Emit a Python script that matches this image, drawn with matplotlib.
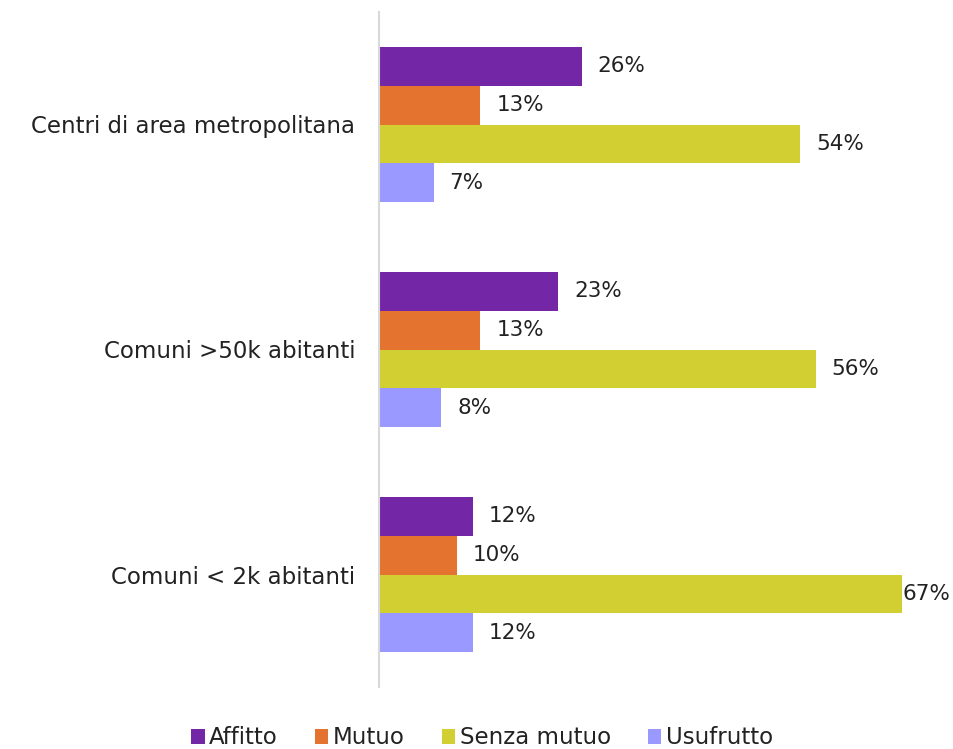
import matplotlib
matplotlib.use("Agg")
import matplotlib.pyplot as plt
import numpy as np
from matplotlib.patches import Patch

categories = ["Centri di area metropolitana", "Comuni >50k abitanti", "Comuni < 2k abitanti"]
series = ["Affitto", "Mutuo", "Senza mutuo", "Usufrutto"]
affitto = [26, 23, 12]
mutuo = [13, 13, 10]
senza_mutuo = [54, 56, 67]
usufrutto = [7, 8, 12]
colors = ["#7327A6", "#E3732E", "#D2CF33", "#9A99FF"]

FS = 15.5
FS_CAT = 16.5
plt.rcParams['font.family'] = ['DejaVu Sans']
fig = plt.figure(figsize=(9.54, 7.49), dpi=100)
ax = fig.add_axes([379/954, 1-687/749, (950-379)/954, (687-12)/749])

values = [affitto, mutuo, senza_mutuo, usufrutto]
y = np.arange(len(categories))
h = 0.173
xmax = (950-379)/7.8
for i, (name, vals, c) in enumerate(zip(series, values, colors)):
    pos = y + (i - 1.5) * h
    ax.barh(pos, vals, height=h, color=c, label=name)
    for p, v in zip(pos, vals):
        off = 11.5 if v < xmax - 8 else 0.3
        ax.annotate(f"{v}%", (v, p), xytext=(off, 0), textcoords="offset points",
                    va="center", ha="left", fontsize=FS, color="#222222")

ax.set_ylim(2.5, -0.5)
ax.set_xlim(0, xmax)
ax.set_yticks(y)
ax.set_yticklabels(categories, fontsize=FS_CAT, color="#222222")
ax.tick_params(axis='y', length=0, pad=17)
ax.set_xticks([])
for s in ["top", "right", "bottom"]:
    ax.spines[s].set_visible(False)
ax.spines["left"].set_color("#d9d9d9")
ax.spines["left"].set_linewidth(1.5)

handles = [Patch(facecolor=c, label=n) for n, c in zip(series, colors)]
fig.legend(handles=handles, loc="center", bbox_to_anchor=(482/954, 1-738/749), ncol=4,
           frameon=False, fontsize=FS_CAT, handlelength=0.6, handleheight=0.6,
           handletextpad=0.2, columnspacing=1.6, labelcolor="#222222")

fig.savefig("out.png", dpi=100)
